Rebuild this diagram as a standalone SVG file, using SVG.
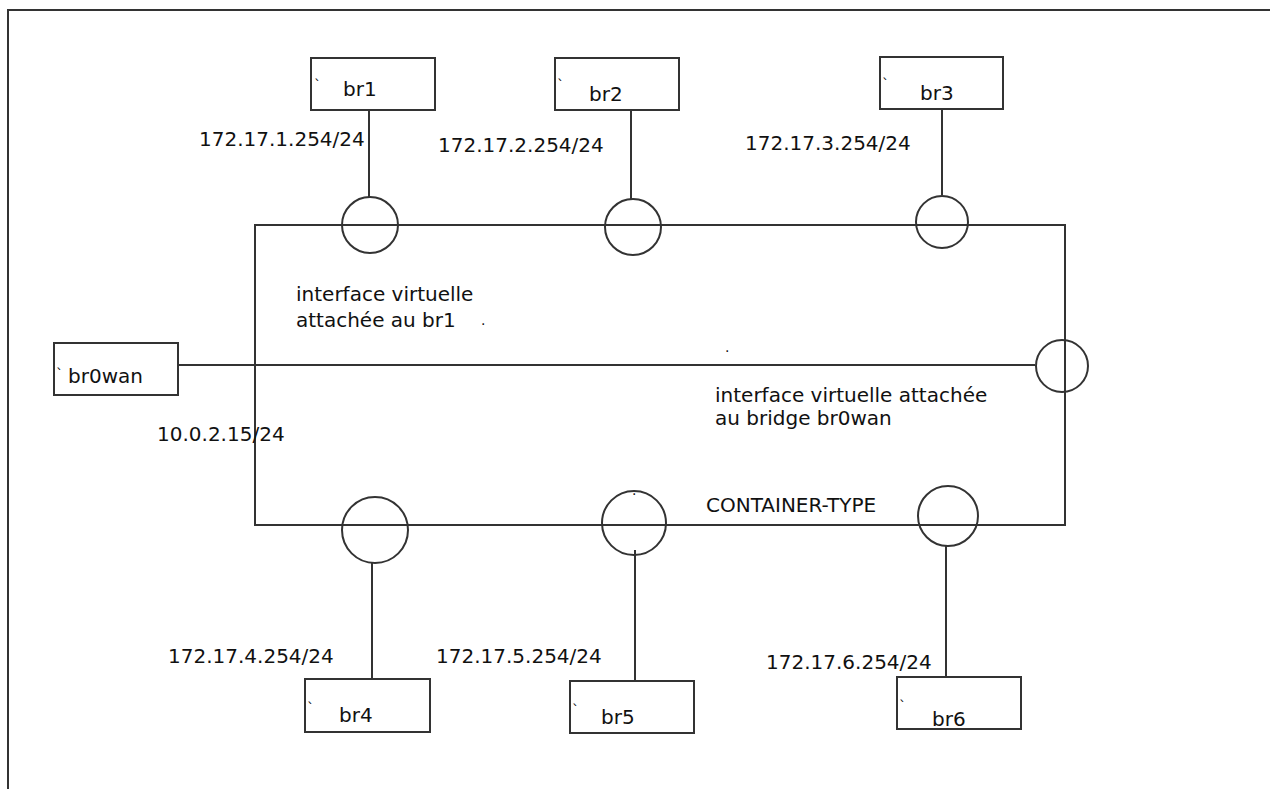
<svg xmlns="http://www.w3.org/2000/svg" width="1270" height="789" viewBox="0 0 1270 789">
<style>
.ln{stroke:#333;stroke-width:2;fill:none}
.bx{stroke:#333;stroke-width:2;fill:#fff}
.ci{stroke:#333;stroke-width:2;fill:none}
text{font-family:"DejaVu Sans","Liberation Sans",sans-serif;font-size:20px;fill:#111}
.tk{font-size:14px}
</style>
<rect width="1270" height="789" fill="#fff"/>
<path class="ln" d="M8,789 V10 H1270"/>
<g id="container">
<rect x="255" y="225" width="810" height="300" class="ln"/>
<text x="706" y="512">CONTAINER-TYPE</text>
</g>
<g id="connectors">
<line class="ln" x1="369" y1="110" x2="369" y2="197"/>
<line class="ln" x1="631" y1="110" x2="631" y2="199"/>
<line class="ln" x1="942" y1="109" x2="942" y2="195"/>
<line class="ln" x1="178" y1="365" x2="1035" y2="365"/>
<line class="ln" x1="372" y1="563" x2="372" y2="680"/>
<line class="ln" x1="635" y1="550" x2="635" y2="681"/>
<line class="ln" x1="946" y1="546" x2="946" y2="677"/>
</g>
<g id="if1"><circle class="ci" cx="370" cy="225" r="28"/></g>
<g id="if2"><circle class="ci" cx="633" cy="227" r="28"/></g>
<g id="if3"><circle class="ci" cx="942" cy="222" r="26"/></g>
<g id="ifwan"><circle class="ci" cx="1062" cy="366" r="26"/></g>
<g id="if4"><circle class="ci" cx="375" cy="530" r="33"/></g>
<g id="if5"><circle class="ci" cx="634" cy="523" r="32"/><text x="632" y="495" class="tk">.</text></g>
<g id="if6"><circle class="ci" cx="948" cy="516" r="30"/></g>
<g id="br1"><rect class="bx" x="311" y="58" width="124" height="52"/><text x="314" y="90" class="tk">`</text><text x="343" y="96">br1</text></g>
<g id="br2"><rect class="bx" x="555" y="58" width="124" height="52"/><text x="557" y="90" class="tk">`</text><text x="589" y="101">br2</text></g>
<g id="br3"><rect class="bx" x="880" y="57" width="123" height="52"/><text x="882" y="89" class="tk">`</text><text x="920" y="100">br3</text></g>
<g id="br0wan"><rect class="bx" x="54" y="343" width="124" height="52"/><text x="56" y="379" class="tk">`</text><text x="68" y="383">br0wan</text></g>
<g id="br4"><rect class="bx" x="305" y="679" width="125" height="53"/><text x="307" y="713" class="tk">`</text><text x="339" y="722">br4</text></g>
<g id="br5"><rect class="bx" x="570" y="681" width="124" height="52"/><text x="572" y="715" class="tk">`</text><text x="601" y="724">br5</text></g>
<g id="br6"><rect class="bx" x="897" y="677" width="124" height="52"/><text x="899" y="711" class="tk">`</text><text x="932" y="726">br6</text></g>
<g id="labels">
<text x="199" y="146">172.17.1.254/24</text>
<text x="438" y="152">172.17.2.254/24</text>
<text x="745" y="150">172.17.3.254/24</text>
<text x="157" y="441">10.0.2.15/24</text>
<text x="168" y="663">172.17.4.254/24</text>
<text x="436" y="663">172.17.5.254/24</text>
<text x="766" y="669">172.17.6.254/24</text>
<text x="296" y="301">interface virtuelle</text>
<text x="296" y="327">attachée au br1</text>
<text x="481" y="325" class="tk">.</text>
<text x="725" y="352" class="tk">.</text>
<text x="715" y="402">interface virtuelle attachée</text>
<text x="715" y="425">au bridge br0wan</text>
</g>
</svg>
